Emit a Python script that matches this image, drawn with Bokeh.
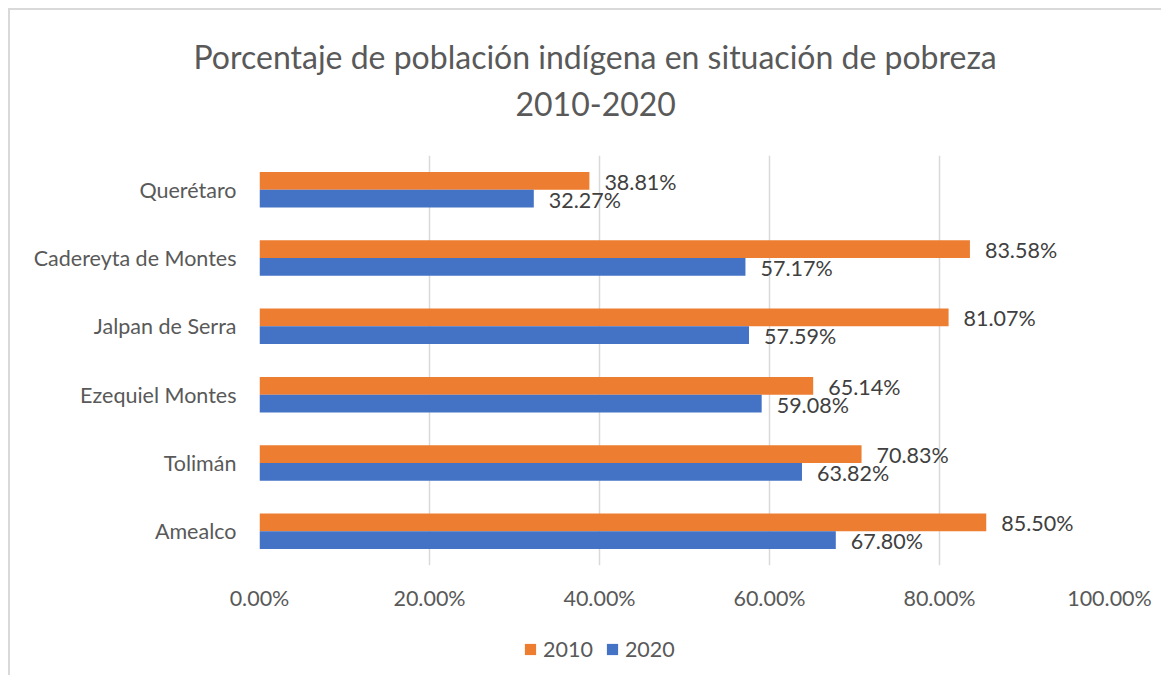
from bokeh.plotting import figure
from bokeh.layouts import column
from bokeh.models import (ColumnDataSource, FactorRange, Range1d, Title, PrintfTickFormatter,
                          FixedTicker, Legend, LegendItem)
from bokeh.transform import dodge
from bokeh.core.properties import value
from bokeh.embed import file_html
from bokeh.resources import INLINE

categories = ["Querétaro", "Cadereyta de Montes", "Jalpan de Serra", "Ezequiel Montes", "Tolimán", "Amealco"]
values_2010 = [38.81, 83.58, 81.07, 65.14, 70.83, 85.50]
values_2020 = [32.27, 57.17, 57.59, 59.08, 63.82, 67.80]
x_ticks = [0, 20, 40, 60, 80, 100]
series_names = ["2010", "2020"]
title_line1 = "Porcentaje de población indígena en situación de pobreza"
title_line2 = "2010-2020"

FONT = "Lato"
ORANGE = "#ED7D31"
BLUE = "#4472C4"
GREY = "#595959"
FS = "21.5px"

src = ColumnDataSource(dict(
    cat=categories,
    v2010=values_2010,
    v2020=values_2020,
    l2010=[f"{v:.2f}%" for v in values_2010],
    l2020=[f"{v:.2f}%" for v in values_2020],
))

p = figure(
    width=1151, height=610,
    y_range=FactorRange(factors=list(reversed(categories))),
    x_range=Range1d(0, 100),
    output_backend="svg", toolbar_location=None,
    min_border_left=249, min_border_right=52,
    min_border_top=145, min_border_bottom=55,
)
p.outline_line_color = None
p.background_fill_color = "white"
p.border_fill_color = "white"

bh = 0.26
r1 = p.hbar(y=dodge("cat", bh / 2, range=p.y_range), right="v2010", left=0, height=bh,
            source=src, color=ORANGE, line_color=None)
r2 = p.hbar(y=dodge("cat", -bh / 2, range=p.y_range), right="v2020", left=0, height=bh,
            source=src, color=BLUE, line_color=None)

p.text(x="v2010", y=dodge("cat", bh / 2, range=p.y_range), text="l2010", source=src,
       x_offset=15, y_offset=1, text_baseline="middle", text_align="left",
       text_font=value(FONT), text_font_size=FS, text_color="#404040")
p.text(x="v2020", y=dodge("cat", -bh / 2, range=p.y_range), text="l2020", source=src,
       x_offset=15, y_offset=1, text_baseline="middle", text_align="left",
       text_font=value(FONT), text_font_size=FS, text_color="#404040")

# axes
p.xaxis.ticker = FixedTicker(ticks=x_ticks)
p.xaxis.formatter = PrintfTickFormatter(format="%.2f%%")
p.xaxis.axis_line_color = None
p.xaxis.major_tick_line_color = None
p.xaxis.minor_tick_line_color = None
p.xaxis.major_tick_out = 0
p.xaxis.major_label_standoff = 19
p.xaxis.major_label_text_font = FONT
p.xaxis.major_label_text_font_size = FS
p.xaxis.major_label_text_color = GREY

p.yaxis.axis_line_color = None
p.yaxis.major_tick_line_color = None
p.yaxis.major_tick_out = 0
p.yaxis.major_label_standoff = 23
p.yaxis.major_label_text_font = FONT
p.yaxis.major_label_text_font_size = FS
p.yaxis.major_label_text_color = GREY

p.xgrid.grid_line_color = "#d9d9d9"
p.xgrid.grid_line_width = 1.5
p.ygrid.grid_line_color = None

# two-line title; a blank spacer title sits between it and the plot area
p.add_layout(Title(text=" ", text_font_size="10px", standoff=17), "above")
p.add_layout(Title(text=title_line2, align="left", offset=256, text_font=FONT,
                   text_font_size="32px", text_font_style="normal",
                   text_color=GREY, standoff=20), "above")
p.add_layout(Title(text=title_line1, align="left", offset=-66, text_font=FONT,
                   text_font_size="32px", text_font_style="normal",
                   text_color=GREY, standoff=7), "above")

# legend in its own strip below the chart (frames are aligned by the column)
lf = figure(width=1151, height=55, x_range=Range1d(0, 1), y_range=Range1d(0, 1),
            output_backend="svg", toolbar_location=None,
            x_axis_location=None, y_axis_location=None, min_border=0)
lf.outline_line_color = None
lf.grid.grid_line_color = None
lf.border_fill_color = "white"
lsrc = ColumnDataSource(dict(y=[-10], right=[-10]))
ra = lf.hbar(y="y", right="right", left=-20, height=0.1, source=lsrc, color=ORANGE, line_color=None)
rb = lf.hbar(y="y", right="right", left=-20, height=0.1, source=lsrc, color=BLUE, line_color=None)
lg = Legend(items=[LegendItem(label=series_names[0], renderers=[ra]),
                   LegendItem(label=series_names[1], renderers=[rb])])
lg.orientation = "horizontal"
lg.location = (264, 13)
lg.padding = 0
lg.margin = 0
lg.spacing = 12
lg.glyph_width = 14
lg.glyph_height = 14
lg.label_standoff = 6
lg.border_line_color = None
lg.background_fill_alpha = 0
lg.label_text_font = FONT
lg.label_text_font_size = FS
lg.label_text_color = GREY
lf.add_layout(lg, "center")

layout = column(p, lf, spacing=0)
layout.styles = {"border-top": "2px solid #d9d9d9", "border-left": "2px solid #d9d9d9",
                 "margin-left": "8px", "margin-top": "8px"}

open("out.html", "w").write(file_html(layout, INLINE))
